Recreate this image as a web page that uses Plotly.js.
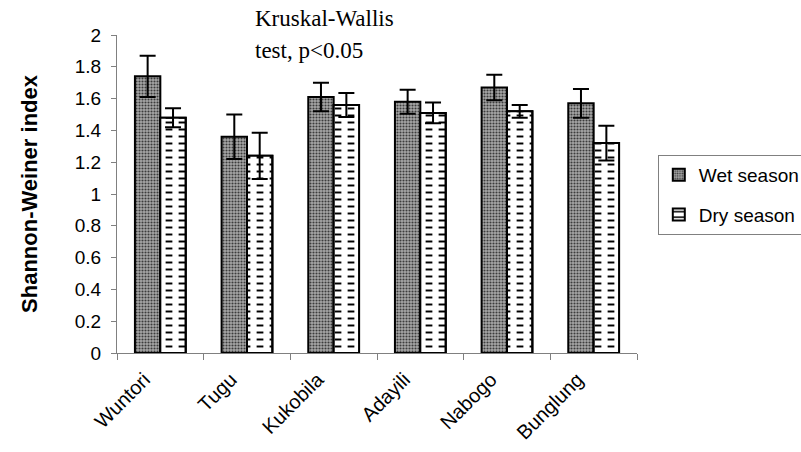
<!DOCTYPE html>
<html>
<head>
<meta charset="utf-8">
<script src="https://cdn.plot.ly/plotly-3.0.1.min.js"></script>
<style>html,body{margin:0;padding:0;background:#fff;}#chart{width:801px;height:452px;}</style>
</head>
<body>
<div id="chart"></div>
<script>
var sites = ['Wuntori', 'Tugu', 'Kukobila', 'Adayili', 'Nabogo', 'Bunglung'];
var wetSeason = [1.74, 1.36, 1.61, 1.58, 1.67, 1.57];
var wetError = [0.13, 0.14, 0.09, 0.075, 0.08, 0.09];
var drySeason = [1.48, 1.24, 1.56, 1.51, 1.52, 1.32];
var dryError = [0.06, 0.145, 0.075, 0.065, 0.04, 0.11];
var yTicks = [0, 0.2, 0.4, 0.6, 0.8, 1, 1.2, 1.4, 1.6, 1.8, 2];
var yTickText = ['0', '0.2', '0.4', '0.6', '0.8', '1', '1.2', '1.4', '1.6', '1.8', '2'];

var BW = 0.293;
var traces = [
  {
    type: 'bar', name: 'Wet season', x: sites, y: wetSeason,
    offset: -BW, width: BW, legendgroup: 'wet',
    marker: {
      color: '#999',
      line: {color: '#000', width: 2},
      pattern: {shape: '.', bgcolor: '#a8a8a8', fgcolor: '#3c3c3c', size: 3, solidity: 0.4}
    },
    error_y: {type: 'data', array: wetError, visible: true, color: '#000', thickness: 2, width: 8},
    hoverinfo: 'skip'
  },
  {
    type: 'bar', name: 'Dry season', x: sites, y: drySeason,
    offset: 0, width: BW, legendgroup: 'dry',
    marker: {
      color: '#fff',
      line: {color: '#000', width: 2},
      pattern: {shape: '-', bgcolor: '#fff', fgcolor: '#000', size: 7, solidity: 0.28}
    },
    hoverinfo: 'skip'
  },
  {
    type: 'bar', name: 'Dry season', x: sites, y: drySeason,
    offset: 0, width: BW, showlegend: false, legendgroup: 'dry',
    marker: {
      color: 'rgba(0,0,0,0)',
      line: {color: '#000', width: 2},
      pattern: {shape: '|', bgcolor: 'rgba(0,0,0,0)', fgcolor: '#fff', size: 13, solidity: 0.48}
    },
    error_y: {type: 'data', array: dryError, visible: true, color: '#000', thickness: 2, width: 8},
    hoverinfo: 'skip'
  }
];

var layout = {
  width: 801, height: 452,
  margin: {l: 117, r: 164, t: 35, b: 99, autoexpand: false},
  paper_bgcolor: '#fff', plot_bgcolor: '#fff',
  barmode: 'overlay',
  showlegend: true,
  font: {family: 'Liberation Sans, Arial, sans-serif', color: '#000', size: 19},
  xaxis: {
    type: 'category',
    showgrid: false, zeroline: false,
    showline: true, linecolor: '#808080', linewidth: 1,
    ticks: 'outside', tickson: 'boundaries', ticklen: 6, tickcolor: '#808080',
    tickangle: -45, ticklabelstandoff: 6, ticklabelshift: -16,
    tickfont: {family: 'Liberation Sans, Arial, sans-serif', size: 20, color: '#000'}
  },
  yaxis: {
    range: [0, 2],
    tickvals: yTicks, ticktext: yTickText,
    showgrid: false, zeroline: false,
    showline: true, linecolor: '#808080', linewidth: 1,
    ticks: 'outside', ticklen: 5, tickcolor: '#808080', ticklabelstandoff: 6,
    tickfont: {family: 'Liberation Sans, Arial, sans-serif', size: 19, color: '#000'},
    title: {text: 'Shannon-Weiner index', standoff: 31,
      font: {family: 'Liberation Sans, Arial, sans-serif', size: 22, color: '#000', weight: 'bold'}}
  },
  legend: {
    x: 1.04, xanchor: 'left', y: 0.623, yanchor: 'top',
    bordercolor: '#808080', borderwidth: 1, bgcolor: '#fff',
    font: {family: 'Liberation Sans, Arial, sans-serif', size: 19, color: '#000'},
    traceorder: 'grouped', tracegroupgap: 12
  },
  annotations: [
    {
      xref: 'paper', yref: 'paper', x: 0.262, y: 1.097, xanchor: 'left', yanchor: 'top',
      align: 'left', showarrow: false, text: 'Kruskal-Wallis',
      font: {family: 'Liberation Serif, Times New Roman, serif', size: 23, color: '#000'}
    },
    {
      xref: 'paper', yref: 'paper', x: 0.262, y: 0.998, xanchor: 'left', yanchor: 'top',
      align: 'left', showarrow: false, text: 'test, p&lt;0.05',
      font: {family: 'Liberation Serif, Times New Roman, serif', size: 23, color: '#000'}
    }
  ]
};

Plotly.newPlot('chart', traces, layout, {displayModeBar: false, staticPlot: true});
</script>
</body>
</html>
